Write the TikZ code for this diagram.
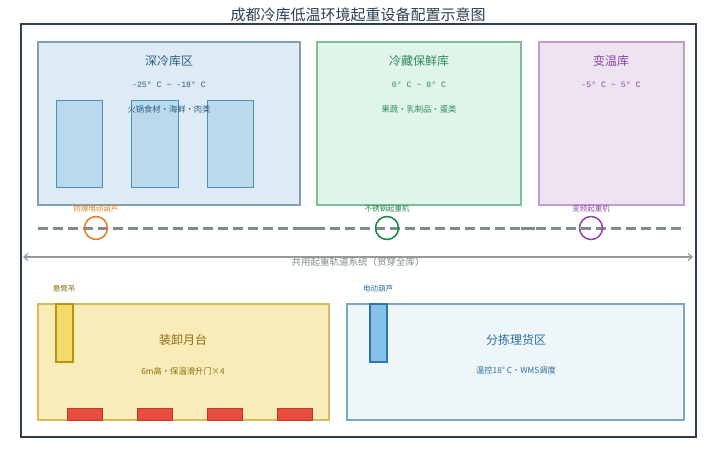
\documentclass[tikz,border=0pt]{standalone}
\usepackage{fontspec}
\setmainfont{Noto Sans CJK SC}
\newfontfamily\monofont{Liberation Mono}
\usetikzlibrary{arrows.meta}
\definecolor{dark}{HTML}{2C3E50}
\definecolor{dfill}{HTML}{DFEBF4}\definecolor{ddraw}{HTML}{7F9FB5}\definecolor{dtext}{HTML}{2C5F7F}
\definecolor{rfill}{HTML}{B8D9EE}\definecolor{rdraw}{HTML}{4A90C2}
\definecolor{cfill}{HTML}{E0F5EA}\definecolor{cdraw}{HTML}{7DBF96}\definecolor{ctext}{HTML}{2E8B57}
\definecolor{vfill}{HTML}{EDE3F1}\definecolor{vdraw}{HTML}{C39BD3}\definecolor{vtext}{HTML}{8E44AD}
\definecolor{orng}{HTML}{E67E22}\definecolor{grn}{HTML}{1E8449}\definecolor{prp}{HTML}{8E44AD}
\definecolor{rail}{HTML}{7F8C8D}\definecolor{axis}{HTML}{999999}
\definecolor{yfill}{HTML}{F9ECB9}\definecolor{ydraw}{HTML}{D4BC5A}\definecolor{ytext}{HTML}{8A6D0B}
\definecolor{jfill}{HTML}{F4D96B}\definecolor{jdraw}{HTML}{B8960C}
\definecolor{redf}{HTML}{E74C3C}\definecolor{redd}{HTML}{C0392B}
\definecolor{sfill}{HTML}{EEF6FA}\definecolor{sdraw}{HTML}{7BA7C6}\definecolor{stext}{HTML}{2C6E9F}
\definecolor{hfill}{HTML}{85C1E9}\definecolor{hdraw}{HTML}{2E75A8}
\tikzset{
  zone/.style={draw, line width=1.5pt, inner sep=0pt},
  zname/.style={font=\fontsize{12}{14}\selectfont},
  zsub/.style={font=\monofont\fontsize{8.2}{10}\selectfont},
  zsmall/.style={font=\fontsize{8.3}{10}\selectfont},
  tiny/.style={font=\fontsize{7.5}{9}\selectfont},
  rack/.style={draw=rdraw, fill=rfill, line width=0.8pt},
  railline/.style={draw=rail, line width=3pt, dash pattern=on 10pt off 5pt},
  crane/.style={circle, draw, line width=1.5pt, minimum size=23pt, inner sep=0pt},
  door/.style={draw=redd, fill=redf, line width=0.8pt},
}
\begin{document}
\begin{tikzpicture}[x=1pt,y=-1pt]
\useasboundingbox (0,0) rectangle (716,458);
\node[text=dark, font=\fontsize{15}{17}\selectfont] (title) at (358,15) {成都冷库低温环境起重设备配置示意图};
\draw[dark, line width=2.5pt, fill=white] (21,24) rectangle (696,437);
% deep freeze
\draw[zone, draw=ddraw, fill=dfill] (38,42) rectangle (300,205);
\draw[rack] (56,100) rectangle (102,187);
\draw[rack] (131,100) rectangle (178,187);
\draw[rack] (207,100) rectangle (253,187);
\node[zname, text=dtext] (dname) at (169,61) {深冷库区};
\node[zsub, text=dtext] (dtemp) at (169,85) {-25° C \textasciitilde{} -18° C};
\node[zsmall, text=dtext] (dgoods) at (169,109) {火锅食材・海鲜・肉类};
% cold storage
\draw[zone, draw=cdraw, fill=cfill] (317,42) rectangle (521,205);
\node[zname, text=ctext] (cname) at (419,61) {冷藏保鲜库};
\node[zsub, text=ctext] (ctemp) at (419,85) {0° C \textasciitilde{} 8° C};
\node[zsmall, text=ctext] (cgoods) at (419,109) {果蔬・乳制品・蛋类};
% variable temp
\draw[zone, draw=vdraw, fill=vfill] (539,42) rectangle (684,205);
\node[zname, text=vtext] (vname) at (611,61) {变温库};
\node[zsub, text=vtext] (vtemp) at (611,85) {-5° C \textasciitilde{} 5° C};
% rails
\coordinate (r1) at (38,228); \coordinate (r2) at (318,228);
\coordinate (r3) at (300,228); \coordinate (r4) at (545,228);
\coordinate (r5) at (521,228); \coordinate (r6) at (684,228);
\draw[railline] (r1) -- (r2);
\draw[railline] (r3) -- (r4);
\draw[railline] (r5) -- (r6);
\node[crane, draw=orng] (c1) at (96,228) {};
\node[crane, draw=grn] (c2) at (387,228) {};
\node[crane, draw=prp] (c3) at (591,228) {};
\node[tiny, text=orng] (l1) at (96,209) {防爆电动葫芦};
\node[tiny, text=grn] (l2) at (387,209) {不锈钢起重机};
\node[tiny, text=prp] (l3) at (591,209) {变频起重机};
% axis
\coordinate (a1) at (23,257); \coordinate (a2) at (693,257);
\draw[axis, line width=1.2pt, {Straight Barb[length=4pt,width=7pt]}-{Straight Barb[length=4pt,width=7pt]}] (a1) -- (a2);
\node[font=\fontsize{9.5}{11}\selectfont, text=rail] (alabel) at (358,262) {共用起重轨道系统（贯穿全库）};
% loading dock
\draw[zone, draw=ydraw, fill=yfill] (38,304) rectangle (329,420);
\draw[draw=jdraw, fill=jfill, line width=1.5pt] (56,304) rectangle (73,362);
\node[tiny, text=ytext] (jl) at (64,289) {悬臂吊};
\node[zname, text=ytext] (yname) at (183,340) {装卸月台};
\node[zsmall, text=ytext] (ysub) at (183,371) {6m高・保温滑升门×4};
\draw[door] (67,408) rectangle (102,420);
\draw[door] (137,408) rectangle (172,420);
\draw[door] (207,408) rectangle (242,420);
\draw[door] (277,408) rectangle (312,420);
% sorting
\draw[zone, draw=sdraw, fill=sfill] (347,304) rectangle (684,420);
\draw[draw=hdraw, fill=hfill, line width=1.5pt] (370,304) rectangle (387,362);
\node[tiny, text=stext] (hl) at (378,289) {电动葫芦};
\node[zname, text=stext] (sname) at (516,340) {分拣理货区};
\node[zsmall, text=stext] (ssub) at (516,370) {温控18° C・WMS调度};
\end{tikzpicture}
\end{document}
